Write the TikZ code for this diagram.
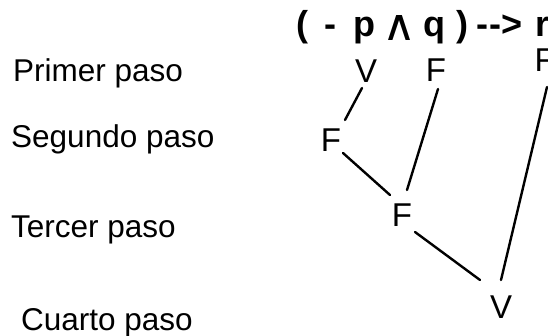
\documentclass[tikz,border=0pt]{standalone}
\usepackage{fontspec}
\usetikzlibrary{calc}
\setmainfont{Liberation Sans}
\newfontfamily\wedgefont{DejaVu Sans}
\tikzset{
  steplabel/.style={anchor=base west, inner sep=0pt, font=\fontsize{31.5}{34}\selectfont},
  val/.style={anchor=base, inner sep=0pt, font=\fontsize{33}{36}\selectfont},
  formula/.style={anchor=base west, inner sep=0pt, font=\fontsize{36}{40}\selectfont\bfseries},
  link/.style={line width=2.4pt, line cap=round}
}
\newcommand{\gl}[2]{\makebox[#1pt][l]{#2}}
\begin{document}
\begin{tikzpicture}[x=1pt, y=-1pt]
\useasboundingbox (0,0) rectangle (548,336);
\clip (0,0) rectangle (548,336);
% formula
\node[formula] (expr) at (296.7,37)
  {\gl{27.9}{(}\gl{29}{-}\gl{32.8}{p}\gl{37.2}{\hspace*{-4pt}\raisebox{-4pt}{\resizebox{34pt}{25pt}{\wedgefont\mdseries ∧}}}\gl{32.7}{q}\gl{20.3}{)}\gl{13}{-}\gl{12}{-}\gl{34}{>}r};
% step labels
\node[steplabel] (s1) at (13,82) {Primer paso};
\node[steplabel] (s2) at (11,148) {Segundo paso};
\node[steplabel] (s3) at (11,238) {Tercer paso};
\node[steplabel] (s4) at (21,330) {Cuarto paso};
% values
\node[val] (v1) at (366,83) {V};
\node[val] (f1) at (436,82) {F};
\node[val, anchor=base west] (fr) at (534.4,72) {F};
\node[val] (f2) at (331,152) {F};
\node[val] (f3) at (402,227) {F};
\node[val] (v4) at (501,318) {V};
% connectors
\draw[link] ($(v1.base)+(-4,5)$) -- ($(f2.base)+(14,-32)$);
\draw[link] ($(f1.base)+(2,7)$) -- ($(f3.base)+(5,-37)$);
\draw[link] ($(fr.base west)+(12.6,15)$) -- ($(v4.base)+(0,-38)$);
\draw[link] ($(f2.base)+(12,1)$) -- ($(f3.base)+(-12,-32)$);
\draw[link] ($(f3.base)+(13,5)$) -- ($(v4.base)+(-21,-38)$);
\end{tikzpicture}
\end{document}
